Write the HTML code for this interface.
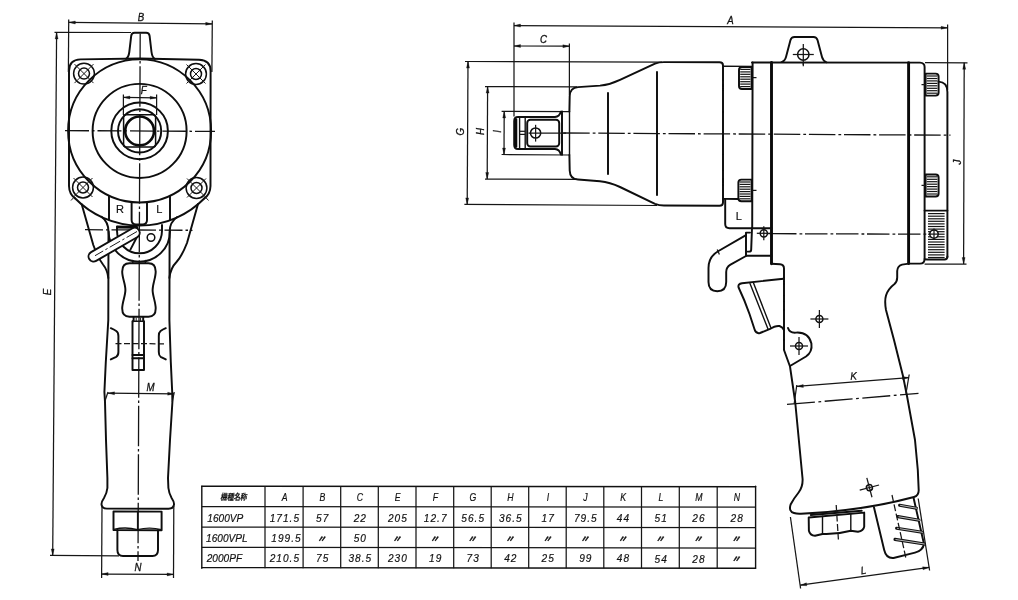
<!DOCTYPE html>
<html lang="ja">
<head>
<meta charset="utf-8">
<title>外形寸法図 1600VP / 1600VPL / 2000PF</title>
<style>
html,body{margin:0;padding:0;background:#fff;}
body{width:1018px;height:600px;overflow:hidden;}
svg{display:block;filter:grayscale(1);}
.k{fill:none;stroke:#0e0e0e;stroke-width:1.95;stroke-linecap:round;stroke-linejoin:round;}
.k1{fill:none;stroke:#111;stroke-width:1.4;stroke-linecap:round;stroke-linejoin:round;}
.k15{fill:none;stroke:#0e0e0e;stroke-width:1.5;}
.kk2{fill:none;stroke:#0a0a0a;stroke-width:2.6;stroke-linecap:round;}
.kk{fill:none;stroke:#0a0a0a;stroke-width:2.9;stroke-linecap:round;}
.t{fill:none;stroke:#161616;stroke-width:1.25;}
.t2{fill:none;stroke:#1a1a1a;stroke-width:1;}
.h{fill:none;stroke:#141414;stroke-width:1.2;}
.c{fill:none;stroke:#141414;stroke-width:1.3;stroke-dasharray:17 3 3.5 3;}
.a{fill:#111;stroke:#111;stroke-width:0.3;}
text{font-family:"Liberation Sans","Noto Sans CJK JP",sans-serif;fill:#111;stroke:#111;stroke-width:0.18;}
.d{font-size:10.5px;font-style:italic;text-anchor:middle;stroke-width:0.3;}
.rl{font-family:"Liberation Sans",sans-serif;font-size:11px;text-anchor:middle;}
.th{font-size:10.4px;font-style:italic;text-anchor:middle;}
.tc{font-size:11px;font-style:italic;text-anchor:middle;letter-spacing:1.1px;}
.tl{font-size:11px;font-style:italic;text-anchor:start;}
.dt{font-family:"Liberation Sans","Noto Sans CJK JP",sans-serif;font-size:9px;stroke-width:0.4;font-weight:bold;font-style:italic;text-anchor:middle;}
.jp{font-family:"Liberation Sans","Noto Sans CJK JP",sans-serif;font-size:8.6px;font-weight:bold;font-style:italic;text-anchor:middle;}
</style>
</head>
<body>
<svg width="1018" height="600" viewBox="0 0 1018 600">
<rect x="0" y="0" width="1018" height="600" fill="#fff"/>
<g id="front-view">
<line class="c" x1="140.2" y1="33.5" x2="138.0" y2="561.0" style="stroke-dasharray:40.5 2.8 2.4 2.8;stroke-dashoffset:15.7"/>
<line class="c" x1="65.0" y1="130.6" x2="215.0" y2="131.4" style="stroke-dasharray:24 3 2.5 3"/>
<line class="c" x1="85.0" y1="229.7" x2="192.5" y2="230.3" style="stroke-dasharray:18 3 2.5 3"/>
<path class="k" d="M75 198.3 Q69.2 194 69 186 L69 71 Q69 59.8 80.5 59.4 L139.8 58.5 L199 59.7 Q210.6 60 210.6 71 L210.5 186 Q210.3 194 204.5 198.3" />
<path class="k" d="M75 198.3 A90.5 90.5 0 0 0 204.5 198.3" />
<line class="t2" x1="71.0" y1="200.5" x2="74.0" y2="197.2" />
<line class="t2" x1="208.5" y1="200.5" x2="205.5" y2="197.2" />
<path class="k" d="M126 58.8 Q128.6 57.4 129.3 52 L131.2 35.8 Q131.6 32.8 134.6 32.8 L146.2 32.8 Q149.2 32.8 149.6 35.8 L151.5 52 Q152.2 57.4 154.8 58.8" />
<circle class="k" cx="139.6" cy="130.9" r="71.5" />
<circle class="k" cx="139.6" cy="130.9" r="47.0" />
<circle class="k" cx="139.6" cy="130.9" r="28.3" />
<circle class="k" cx="139.6" cy="130.9" r="21.6" />
<rect class="k15" x="123.6" y="114.7" width="32.0" height="32.2" rx="2.5"/>
<circle class="kk2" cx="139.6" cy="130.9" r="14.4" />
<circle class="k15" cx="84.0" cy="73.6" r="10.4" />
<circle class="k15" cx="84.0" cy="73.6" r="5.5" />
<line class="t2" x1="74.5" y1="64.1" x2="93.5" y2="83.1" />
<line class="t2" x1="93.5" y1="64.1" x2="74.5" y2="83.1" />
<circle class="k15" cx="196.0" cy="74.0" r="10.4" />
<circle class="k15" cx="196.0" cy="74.0" r="5.5" />
<line class="t2" x1="186.5" y1="64.5" x2="205.5" y2="83.5" />
<line class="t2" x1="205.5" y1="64.5" x2="186.5" y2="83.5" />
<circle class="k15" cx="83.0" cy="187.5" r="10.4" />
<circle class="k15" cx="83.0" cy="187.5" r="5.5" />
<line class="t2" x1="73.5" y1="178.0" x2="92.5" y2="197.0" />
<line class="t2" x1="92.5" y1="178.0" x2="73.5" y2="197.0" />
<circle class="k15" cx="196.5" cy="188.0" r="10.4" />
<circle class="k15" cx="196.5" cy="188.0" r="5.5" />
<line class="t2" x1="187.0" y1="178.5" x2="206.0" y2="197.5" />
<line class="t2" x1="206.0" y1="178.5" x2="187.0" y2="197.5" />
<line class="t" x1="123.4" y1="94.5" x2="123.4" y2="115.0" />
<line class="t" x1="156.6" y1="94.5" x2="156.6" y2="115.0" />
<line class="t" x1="123.4" y1="97.4" x2="156.6" y2="97.8" />
<polygon class="a" points="123.4,97.4 129.9,96.0 129.9,99.0"/>
<polygon class="a" points="156.6,97.8 150.1,99.2 150.1,96.2"/>
<text class="d" transform="translate(143.7 94.0) scale(0.92 1)" >F</text>
<line class="k" x1="109.0" y1="196.0" x2="109.0" y2="219.7" />
<line class="k" x1="170.0" y1="196.0" x2="170.0" y2="219.9" />
<path class="k" d="M131.6 202 L131.6 220 Q131.6 224.4 136 224.4 L142.6 224.4 Q147 224.4 147 220 L147 202" />
<text class="rl" transform="translate(120.0 212.6)" >R</text>
<text class="rl" transform="translate(159.3 213.0)" >L</text>
<path class="k" d="M81.7 204.2 L93.3 245 Q98 258 103 264.5 Q107.5 270 108.3 278" />
<path class="k" d="M198 204 L187 243 Q182 256 176.5 262 Q170.5 268 169.4 278" />
<path class="k" d="M101.5 216.8 Q108.6 222 108.5 232 L108.3 320 L105.8 362 L104.4 392 L105 402 L106 440 L107.4 478 L107.4 488 Q106.8 493.5 104 498 Q101 502.4 101.6 505 Q102.4 508.6 107 508.6 L168.5 508.8 Q173 508.8 173.9 505 Q174.6 502.4 171.6 498 Q169 493.5 168.4 488 L168 478 L170 440 L172.4 402 L172.2 392 L170.8 362 L169.4 320 L169.6 232 Q169.6 222 177.2 217" />
<path class="kk" d="M117.4 227 L137 227.4" />
<path class="k" d="M117 226.8 L117 230.8 A22.5 22.5 0 0 0 162 230.8 L162 225" />
<path class="k" d="M108.6 231.5 A30.7 30.2 0 0 0 170 231.5" />
<line class="k" x1="139.3" y1="232.5" x2="130.4" y2="249.6" />
<circle class="k15" cx="151.0" cy="237.5" r="3.8" />
<line class="k1" x1="132.8" y1="260.5" x2="132.8" y2="263.2" />
<line class="k1" x1="145.4" y1="260.5" x2="145.4" y2="263.2" />
<line x1="134.6" y1="232.9" x2="93.6" y2="256.5" stroke="#0e0e0e" stroke-width="12" stroke-linecap="round"/>
<line x1="134.6" y1="232.9" x2="93.6" y2="256.5" stroke="#fff" stroke-width="8.2" stroke-linecap="round"/>
<line x1="137" y1="231.5" x2="95" y2="255.7" stroke="#1a1a1a" stroke-width="1" stroke-dasharray="12 2.5 2.5 2.5"/>
<path class="k" d="M129.5 263.2 L148.5 263.2 C153 263.2 155.7 266 155.7 271.5 C155.7 278 152.6 284 152.6 290 C152.6 296 155.7 302 155.7 308.5 C155.7 314 153 316.7 148.5 316.7 L129.5 316.7 C125 316.7 122.2 314 122.2 308.5 C122.2 302 125.4 296 125.4 290 C125.4 284 122.2 278 122.2 271.5 C122.2 266 125 263.2 129.5 263.2 Z" />
<path class="k" d="M133.6 317 L133.6 321.3 L132.5 321.3 L132.5 370 L144 370 L144 321.3 L143.2 321.3 L143.2 317" />
<line class="k1" x1="132.5" y1="321.3" x2="144.0" y2="321.3" />
<line class="t2" x1="136.2" y1="317.5" x2="136.2" y2="321.0" />
<line class="t2" x1="140.6" y1="317.5" x2="140.6" y2="321.0" />
<line class="k" x1="132.5" y1="355.0" x2="144.0" y2="355.0" />
<line class="k" x1="132.5" y1="358.2" x2="144.0" y2="358.2" />
<path class="k" d="M110.8 328.2 Q114 329.6 116.2 331 Q118.4 332.4 118.4 336 L118.4 352 Q118.4 355.6 116.2 356.8 L110.8 359.4" />
<path class="k" d="M165.8 328.2 Q162.6 329.6 160.6 331 Q158.8 332.4 158.8 336 L158.8 352 Q158.8 355.6 160.6 356.8 L165.8 359.4" />
<line class="t" x1="115.5" y1="343.6" x2="164.3" y2="343.8" stroke-dasharray="6 2.5"/>
<line class="t" x1="108.0" y1="393.2" x2="174.2" y2="393.8" />
<polygon class="a" points="108.0,393.2 114.5,391.8 114.5,394.8"/>
<polygon class="a" points="174.2,393.8 167.7,395.2 167.7,392.2"/>
<line class="t" x1="108.0" y1="392.0" x2="104.6" y2="402.0" />
<line class="t" x1="174.2" y1="392.0" x2="172.4" y2="402.0" />
<text class="d" transform="translate(150.5 390.7) scale(0.92 1)" >M</text>
<path class="k" d="M113.5 511.5 L113.5 530 L161.6 530.2 L161.6 511.6 Z" />
<path class="k1" d="M113.8 529.4 Q125.5 526.6 137.5 529.6 Q149.5 526.6 161.4 529.6" />
<line class="k1" x1="137.6" y1="511.6" x2="137.6" y2="529.4" />
<path class="k" d="M117.4 530 L117.4 550 Q117.4 556 123 556 L152.4 556 Q158 556 158 550 L158 530" />
<line class="t" x1="102.0" y1="506.0" x2="101.6" y2="578.0" />
<line class="t" x1="173.8" y1="506.0" x2="173.5" y2="578.0" />
<line class="t" x1="101.6" y1="574.0" x2="173.6" y2="574.4" />
<polygon class="a" points="101.6,574.0 108.1,572.5 108.1,575.5"/>
<polygon class="a" points="173.6,574.4 167.1,575.9 167.1,572.9"/>
<text class="d" transform="translate(138.0 571.4) scale(0.92 1)" >N</text>
<line class="t" x1="54.5" y1="32.3" x2="131.0" y2="32.5" />
<line class="t" x1="50.0" y1="555.3" x2="119.0" y2="555.8" />
<line class="t" x1="56.6" y1="32.5" x2="52.7" y2="555.4" />
<polygon class="a" points="56.6,32.5 58.1,39.0 55.1,39.0"/>
<polygon class="a" points="52.7,555.4 51.2,548.9 54.2,548.9"/>
<text class="d" transform="translate(51.2 292.0) rotate(-90) scale(0.92 1)" >E</text>
<line class="t" x1="68.7" y1="19.5" x2="68.4" y2="72.0" />
<line class="t" x1="212.3" y1="20.5" x2="211.9" y2="72.0" />
<line class="t" x1="68.8" y1="22.4" x2="212.2" y2="23.9" />
<polygon class="a" points="68.8,22.4 75.3,21.0 75.3,24.0"/>
<polygon class="a" points="212.2,23.9 205.7,25.3 205.7,22.3"/>
<text class="d" transform="translate(141.0 20.5) scale(0.92 1)" >B</text>
</g>
<g id="side-view">
<line class="c" x1="563.2" y1="133.0" x2="950.5" y2="135.2" style="stroke-dasharray:26.5 3 2.8 2.8"/>
<line class="c" x1="774.0" y1="233.7" x2="930.0" y2="234.2" style="stroke-dasharray:22.5 3 2.8 2.7"/>
<line class="t" x1="767.0" y1="233.6" x2="774.0" y2="233.7" />
<line class="c" x1="787.0" y1="404.4" x2="918.5" y2="393.4" style="stroke-dasharray:28 3.5 2.8 3.5"/>
<line class="t" x1="514.0" y1="22.5" x2="514.0" y2="116.5" />
<line class="t" x1="947.6" y1="24.5" x2="947.6" y2="90.0" />
<line class="t" x1="514.0" y1="25.6" x2="947.6" y2="27.8" />
<polygon class="a" points="514.0,25.6 520.5,24.1 520.5,27.1"/>
<polygon class="a" points="947.6,27.8 941.1,29.3 941.1,26.3"/>
<text class="d" transform="translate(730.5 24.0) scale(0.92 1)" >A</text>
<line class="t" x1="569.4" y1="43.5" x2="569.4" y2="95.0" />
<line class="t" x1="514.0" y1="46.0" x2="569.4" y2="46.2" />
<polygon class="a" points="514.0,46.0 520.5,44.5 520.5,47.5"/>
<polygon class="a" points="569.4,46.2 562.9,47.7 562.9,44.7"/>
<text class="d" transform="translate(543.5 43.0) scale(0.92 1)" >C</text>
<line class="t" x1="465.0" y1="61.5" x2="662.0" y2="62.2" />
<line class="t" x1="464.4" y1="204.3" x2="657.0" y2="205.5" />
<line class="t" x1="468.0" y1="61.6" x2="467.2" y2="204.4" />
<polygon class="a" points="468.0,61.6 469.5,68.1 466.5,68.1"/>
<polygon class="a" points="467.2,204.4 465.7,197.9 468.7,197.9"/>
<text class="d" transform="translate(464.2 131.7) rotate(-90) scale(0.92 1)" >G</text>
<line class="t" x1="485.0" y1="86.6" x2="577.0" y2="86.9" />
<line class="t" x1="485.0" y1="179.0" x2="577.0" y2="179.3" />
<line class="t" x1="487.6" y1="86.6" x2="487.2" y2="179.0" />
<polygon class="a" points="487.6,86.6 489.1,93.1 486.1,93.1"/>
<polygon class="a" points="487.2,179.0 485.7,172.5 488.7,172.5"/>
<text class="d" transform="translate(484.2 131.5) rotate(-90) scale(0.92 1)" >H</text>
<line class="t" x1="501.6" y1="111.3" x2="569.4" y2="111.5" />
<line class="t" x1="501.6" y1="154.5" x2="569.4" y2="155.0" />
<line class="t" x1="504.2" y1="111.4" x2="504.0" y2="154.5" />
<polygon class="a" points="504.2,111.4 505.7,117.9 502.7,117.9"/>
<polygon class="a" points="504.0,154.5 502.5,148.0 505.5,148.0"/>
<text class="d" transform="translate(501.0 131.5) rotate(-90) scale(0.92 1)" >I</text>
<path class="k" d="M560.8 111.8 Q559.6 116.6 555 117 L518 117 Q514.2 117 514.2 121 L514.2 145 Q514.2 149 518 149 L555 149 Q559.6 149.4 560.8 154.4" />
<line class="kk2" x1="516.0" y1="119.5" x2="516.0" y2="146.5" />
<line class="k1" x1="519.6" y1="117.5" x2="519.6" y2="148.6" />
<line class="k1" x1="525.2" y1="117.5" x2="525.2" y2="148.6" />
<line class="t" x1="519.6" y1="131.3" x2="525.2" y2="131.3" />
<line class="t" x1="519.6" y1="134.4" x2="525.2" y2="134.4" />
<rect class="k" x="527.2" y="119.7" width="32.0" height="26.8" rx="3.2"/>
<line class="k" x1="562.0" y1="111.5" x2="562.0" y2="154.8" />
<circle class="k15" cx="535.6" cy="133.0" r="5.1" />
<line class="t" x1="528.5" y1="133.0" x2="566.0" y2="133.1" />
<line class="t" x1="535.6" y1="124.8" x2="535.6" y2="141.6" />
<path class="k" d="M569.4 111.5 L569.7 96 Q570 87.6 578 87.1 L600 85.6 Q610 84.6 620 79.8 L655 63.6 Q659 62.1 664 62.1 L719.5 62.3 Q723 62.3 723 65.5 L723 202.5 Q723 205.7 719.5 205.7 L664 205.5 Q659 205.5 655 203.8 L620 187 Q610 182.2 600 181.2 L578 179.5 Q570 179.2 569.7 170.5 L569.4 155" />
<line class="k1" x1="569.5" y1="111.5" x2="569.5" y2="155.0" />
<line class="k" x1="608.0" y1="93.0" x2="608.0" y2="174.0" />
<line class="k" x1="657.0" y1="72.0" x2="657.0" y2="195.0" />
<line class="k1" x1="723.0" y1="66.2" x2="752.4" y2="66.4" />
<line class="k" x1="723.0" y1="198.9" x2="738.5" y2="199.0" />
<path class="k" d="M751.6 67 L742 67 Q739 67 739 70 L739 86 Q739 89 742 89 L751.6 89 Z" fill="#f4f4f4"/>
<line class="h" x1="740.2" y1="69.4" x2="750.4" y2="69.4" />
<line class="h" x1="740.2" y1="71.9" x2="750.4" y2="71.9" />
<line class="h" x1="740.2" y1="74.3" x2="750.4" y2="74.3" />
<line class="h" x1="740.2" y1="76.8" x2="750.4" y2="76.8" />
<line class="h" x1="740.2" y1="79.2" x2="750.4" y2="79.2" />
<line class="h" x1="740.2" y1="81.7" x2="750.4" y2="81.7" />
<line class="h" x1="740.2" y1="84.1" x2="750.4" y2="84.1" />
<line class="h" x1="740.2" y1="86.6" x2="750.4" y2="86.6" />
<path class="k" d="M751.6 179.6 L741.4 179.6 Q738.4 179.6 738.4 182.6 L738.4 198.2 Q738.4 201.2 741.4 201.2 L751.6 201.2 Z" fill="#f4f4f4"/>
<line class="h" x1="739.6" y1="182.0" x2="750.4" y2="182.0" />
<line class="h" x1="739.6" y1="184.4" x2="750.4" y2="184.4" />
<line class="h" x1="739.6" y1="186.8" x2="750.4" y2="186.8" />
<line class="h" x1="739.6" y1="189.2" x2="750.4" y2="189.2" />
<line class="h" x1="739.6" y1="191.6" x2="750.4" y2="191.6" />
<line class="h" x1="739.6" y1="194.0" x2="750.4" y2="194.0" />
<line class="h" x1="739.6" y1="196.4" x2="750.4" y2="196.4" />
<line class="h" x1="739.6" y1="198.8" x2="750.4" y2="198.8" />
<line class="t" x1="751.5" y1="77.6" x2="756.5" y2="77.6" />
<line class="t" x1="751.5" y1="190.4" x2="756.5" y2="190.4" />
<line class="k" x1="752.6" y1="62.4" x2="752.2" y2="228.0" />
<path class="k" d="M752 62.4 L920 62.6 Q924.6 62.8 924.6 67 L924.6 259 Q924.6 263.6 920 263.6 L908.8 263.6" />
<line class="kk" x1="771.5" y1="62.4" x2="771.5" y2="263.8" />
<line class="kk" x1="908.6" y1="62.6" x2="908.6" y2="263.6" />
<path class="k" d="M781.5 62.1 Q784.8 61.2 786 57 L790.5 40 Q791.3 36.9 794.5 36.9 L813.5 36.9 Q816.6 36.9 817.5 40 L822 57 Q823.2 61.2 826.5 62.3" />
<g>
<circle class="k15" cx="803.3" cy="54.5" r="5.7" />
<line class="t" x1="792.8" y1="54.5" x2="813.8" y2="54.5" />
<line class="t" x1="803.3" y1="44.0" x2="803.3" y2="65.0" />
</g>
<line class="t" x1="803.3" y1="62.0" x2="803.3" y2="66.2" />
<path class="k" d="M925.6 73.6 L935.6 73.6 Q938.6 73.6 938.6 76.6 L938.6 92.6 Q938.6 95.6 935.6 95.6 L925.6 95.6 Z" fill="#f4f4f4"/>
<line class="h" x1="926.8" y1="76.0" x2="937.4" y2="76.0" />
<line class="h" x1="926.8" y1="78.5" x2="937.4" y2="78.5" />
<line class="h" x1="926.8" y1="80.9" x2="937.4" y2="80.9" />
<line class="h" x1="926.8" y1="83.4" x2="937.4" y2="83.4" />
<line class="h" x1="926.8" y1="85.8" x2="937.4" y2="85.8" />
<line class="h" x1="926.8" y1="88.3" x2="937.4" y2="88.3" />
<line class="h" x1="926.8" y1="90.7" x2="937.4" y2="90.7" />
<line class="h" x1="926.8" y1="93.2" x2="937.4" y2="93.2" />
<path class="k" d="M925.6 174.4 L935.6 174.4 Q938.6 174.4 938.6 177.4 L938.6 193.4 Q938.6 196.4 935.6 196.4 L925.6 196.4 Z" fill="#f4f4f4"/>
<line class="h" x1="926.8" y1="176.8" x2="937.4" y2="176.8" />
<line class="h" x1="926.8" y1="179.3" x2="937.4" y2="179.3" />
<line class="h" x1="926.8" y1="181.7" x2="937.4" y2="181.7" />
<line class="h" x1="926.8" y1="184.2" x2="937.4" y2="184.2" />
<line class="h" x1="926.8" y1="186.6" x2="937.4" y2="186.6" />
<line class="h" x1="926.8" y1="189.1" x2="937.4" y2="189.1" />
<line class="h" x1="926.8" y1="191.5" x2="937.4" y2="191.5" />
<line class="h" x1="926.8" y1="194.0" x2="937.4" y2="194.0" />
<line class="t" x1="921.5" y1="84.6" x2="925.6" y2="84.6" />
<line class="t" x1="921.5" y1="185.4" x2="925.6" y2="185.4" />
<path class="k" d="M938.6 81.6 Q947.4 82 947.4 92 L947.4 257" />
<path class="k" d="M924.6 210.6 L947.4 210.6 M924.6 259 Q924.8 259.4 927 259.4 L944.5 259.4 Q947.4 259.4 947.4 256.5" />
<line class="h" x1="928.0" y1="213.6" x2="944.6" y2="213.6" />
<line class="h" x1="928.0" y1="216.2" x2="944.6" y2="216.2" />
<line class="h" x1="928.0" y1="218.8" x2="944.6" y2="218.8" />
<line class="h" x1="928.0" y1="221.3" x2="944.6" y2="221.3" />
<line class="h" x1="928.0" y1="223.9" x2="944.6" y2="223.9" />
<line class="h" x1="928.0" y1="226.5" x2="944.6" y2="226.5" />
<line class="h" x1="928.0" y1="229.1" x2="944.6" y2="229.1" />
<line class="h" x1="928.0" y1="231.7" x2="944.6" y2="231.7" />
<line class="h" x1="928.0" y1="234.2" x2="944.6" y2="234.2" />
<line class="h" x1="928.0" y1="236.8" x2="944.6" y2="236.8" />
<line class="h" x1="928.0" y1="239.4" x2="944.6" y2="239.4" />
<line class="h" x1="928.0" y1="242.0" x2="944.6" y2="242.0" />
<line class="h" x1="928.0" y1="244.6" x2="944.6" y2="244.6" />
<line class="h" x1="928.0" y1="247.1" x2="944.6" y2="247.1" />
<line class="h" x1="928.0" y1="249.7" x2="944.6" y2="249.7" />
<line class="h" x1="928.0" y1="252.3" x2="944.6" y2="252.3" />
<line class="h" x1="928.0" y1="254.9" x2="944.6" y2="254.9" />
<line class="h" x1="928.0" y1="257.5" x2="944.6" y2="257.5" />
<circle class="k15" cx="934.0" cy="234.1" r="4.2" style="fill:#fff"/>
<line class="t" x1="934.0" y1="228.6" x2="934.0" y2="239.6" />
<line class="t" x1="929.0" y1="234.1" x2="939.0" y2="234.1" />
<line class="t" x1="925.0" y1="62.6" x2="967.5" y2="62.8" />
<line class="t" x1="924.6" y1="264.0" x2="966.5" y2="264.2" />
<line class="t" x1="964.2" y1="62.8" x2="963.6" y2="264.0" />
<polygon class="a" points="964.2,62.8 965.7,69.3 962.7,69.3"/>
<polygon class="a" points="963.6,264.0 962.1,257.5 965.1,257.5"/>
<text class="d" transform="translate(961.0 162.0) rotate(-90) scale(0.92 1)" >J</text>
<path class="k" d="M725.2 199.5 L725.2 224 Q725.2 228.2 729.5 228.2 L771.5 228.2" />
<text class="rl" transform="translate(738.7 219.7)" >L</text>
<path class="k" d="M752 228 L751.2 249.4 Q751.2 251.6 749 251.6 L747.6 251.6" />
<path class="k" d="M750 232.6 L746 232.6 L746 255.7 L771.5 255.7" />
<g>
<circle class="k15" cx="763.8" cy="233.3" r="3.6" />
<line class="t" x1="756.8" y1="233.3" x2="770.8" y2="233.3" />
<line class="t" x1="763.8" y1="226.3" x2="763.8" y2="240.3" />
</g>
<path class="k" d="M746 235.2 L718.5 251 Q708.5 256.6 708.5 268 L708.5 282 Q708.5 291.2 717.3 291.2 Q726.2 291.2 726.2 282 L726.2 272 Q726.2 267 730.5 264.6 L746 256" />
<line class="t" x1="717.2" y1="249.4" x2="719.4" y2="254.6" />
<path class="k" d="M771.5 263.8 L780 264.3 Q784 264.6 784 268.5 L784 350 L790 366.5 L795.2 402 L802.6 479 Q802.9 487 798.6 492.5 Q793.4 499 790.6 504.5 Q788.4 511.3 794 513 Q797 514 801 513.7 Q861 511.2 914 497 Q918.8 495.6 918.7 490 L917.8 470 L915 440 L907 396 L903 376 L894 340 L886 310 Q884.4 301 886 295.5 Q888 289 894.5 284 Q897.2 281.5 897.2 277.5 L897.2 271 Q897.4 266 902 264.6 L908.8 263.6" />
<path class="k" d="M783.5 278.8 L742 283.2 Q737.6 283.8 738.6 287.5 Q745 301 749.5 314 L754.6 329.5 Q756 334 760 333 L769.5 329.2 Q775.5 325.4 779.5 326 Q782.5 327 784 330" />
<line class="k1" x1="750.0" y1="283.6" x2="768.0" y2="329.0" />
<line class="k1" x1="753.6" y1="283.2" x2="770.8" y2="327.5" />
<path class="k" d="M788 328 Q789.6 333.2 796 332.6 Q808.5 331.8 811.4 343.5 Q812.6 352 806 356.5 L790 366" />
<g>
<circle class="k15" cx="819.4" cy="319.0" r="3.5" />
<line class="t" x1="810.4" y1="319.0" x2="828.4" y2="319.0" />
<line class="t" x1="819.4" y1="310.0" x2="819.4" y2="328.0" />
</g>
<g>
<circle class="k15" cx="799.0" cy="346.0" r="3.5" />
<line class="t" x1="790.0" y1="346.0" x2="808.0" y2="346.0" />
<line class="t" x1="799.0" y1="337.0" x2="799.0" y2="355.0" />
</g>
<g transform="rotate(-15 869.4 487.6)">
<circle class="k15" cx="869.4" cy="487.6" r="3.0" />
<line class="t" x1="859.4" y1="487.6" x2="879.4" y2="487.6" />
<line class="t" x1="869.4" y1="477.6" x2="869.4" y2="497.6" />
</g>
<line class="t" x1="796.8" y1="386.4" x2="909.0" y2="377.6" />
<polygon class="a" points="796.8,386.4 803.2,384.4 803.4,387.4"/>
<polygon class="a" points="909.0,377.6 902.6,379.6 902.4,376.6"/>
<line class="t" x1="796.8" y1="385.0" x2="794.2" y2="403.5" />
<line class="t" x1="909.2" y1="374.5" x2="906.0" y2="393.5" />
<text class="d" transform="translate(853.6 379.5) rotate(-3) scale(0.92 1)" >K</text>
<line class="k" x1="810.8" y1="515.0" x2="861.7" y2="510.8" />
<path class="k" d="M808.7 517.5 L864.2 512.6 L864.2 526.7 Q863.5 531 858 531.7 L850.8 530.8 Q837 534.6 822.5 534 L815 535.8 Q810 535.5 808.9 530.8 Z" />
<line class="k1" x1="822.5" y1="516.2" x2="822.5" y2="534.0" />
<line class="k1" x1="850.8" y1="513.8" x2="850.8" y2="530.8" />
<line class="t" x1="836.2" y1="505.0" x2="838.4" y2="539.5" stroke-dasharray="7 2.5"/>
<path class="k" d="M874 507.5 L884.2 550 Q886.2 558.6 893.5 558 L915 552.6 Q922.8 550.6 924 544 L913.6 498" />
<line x1="899.6" y1="505.2" x2="916.5" y2="508.2" stroke="#111" stroke-width="3.1" stroke-linecap="round"/>
<line x1="900.1" y1="505.3" x2="917.5" y2="508.34999999999997" stroke="#fff" stroke-width="0.7"/>
<line x1="898" y1="516.6" x2="919" y2="520.2" stroke="#111" stroke-width="3.1" stroke-linecap="round"/>
<line x1="898.5" y1="516.7" x2="920" y2="520.35" stroke="#fff" stroke-width="0.7"/>
<line x1="896.6" y1="528.2" x2="922" y2="532.2" stroke="#111" stroke-width="3.1" stroke-linecap="round"/>
<line x1="897.1" y1="528.3000000000001" x2="923" y2="532.35" stroke="#fff" stroke-width="0.7"/>
<line x1="895" y1="539.4" x2="924.5" y2="544" stroke="#111" stroke-width="3.1" stroke-linecap="round"/>
<line x1="895.5" y1="539.5" x2="925.5" y2="544.15" stroke="#fff" stroke-width="0.7"/>
<line class="t" x1="892.0" y1="495.0" x2="906.2" y2="559.5" stroke-dasharray="7 2.5"/>
<line class="t" x1="790.4" y1="517.0" x2="800.6" y2="588.5" />
<line class="t" x1="918.2" y1="498.5" x2="929.6" y2="570.5" />
<line class="t" x1="800.2" y1="585.2" x2="929.2" y2="567.4" />
<polygon class="a" points="800.2,585.2 806.4,582.8 806.8,585.8"/>
<polygon class="a" points="929.2,567.4 923.0,569.8 922.6,566.8"/>
<text class="d" transform="translate(864.0 574.0) rotate(-8) scale(0.92 1)" >L</text>
</g>
<g id="table">
<line class="k1" x1="201.8" y1="486.2" x2="755.6" y2="486.8" />
<line class="t" x1="201.8" y1="506.5" x2="755.6" y2="507.1" />
<line class="t" x1="201.8" y1="527.1" x2="755.6" y2="527.7" />
<line class="t" x1="201.8" y1="547.4" x2="755.6" y2="548.0" />
<line class="k1" x1="201.8" y1="567.6" x2="755.6" y2="568.2" />
<line class="k1" x1="201.8" y1="486.2" x2="201.8" y2="568.2" />
<line class="t" x1="265.0" y1="486.2" x2="265.0" y2="568.2" />
<line class="t" x1="303.1" y1="486.2" x2="303.1" y2="568.2" />
<line class="t" x1="340.7" y1="486.2" x2="340.7" y2="568.2" />
<line class="t" x1="378.3" y1="486.2" x2="378.3" y2="568.2" />
<line class="t" x1="416.0" y1="486.2" x2="416.0" y2="568.2" />
<line class="t" x1="453.7" y1="486.2" x2="453.7" y2="568.2" />
<line class="t" x1="491.2" y1="486.2" x2="491.2" y2="568.2" />
<line class="t" x1="528.7" y1="486.2" x2="528.7" y2="568.2" />
<line class="t" x1="566.2" y1="486.2" x2="566.2" y2="568.2" />
<line class="t" x1="603.8" y1="486.2" x2="603.8" y2="568.2" />
<line class="t" x1="641.5" y1="486.2" x2="641.5" y2="568.2" />
<line class="t" x1="679.3" y1="486.2" x2="679.3" y2="568.2" />
<line class="t" x1="717.2" y1="486.2" x2="717.2" y2="568.2" />
<line class="k1" x1="755.6" y1="486.2" x2="755.6" y2="568.2" />
<text class="jp" transform="translate(233.5 500.4) scale(0.77 1)" >機種名称</text>
<text class="th" transform="translate(284.6 500.8) scale(0.84 1)" >A</text>
<text class="th" transform="translate(322.4 500.8) scale(0.84 1)" >B</text>
<text class="th" transform="translate(360.0 500.9) scale(0.84 1)" >C</text>
<text class="th" transform="translate(397.6 500.9) scale(0.84 1)" >E</text>
<text class="th" transform="translate(435.4 500.9) scale(0.84 1)" >F</text>
<text class="th" transform="translate(472.9 501.0) scale(0.84 1)" >G</text>
<text class="th" transform="translate(510.5 501.0) scale(0.84 1)" >H</text>
<text class="th" transform="translate(548.0 501.0) scale(0.84 1)" >I</text>
<text class="th" transform="translate(585.5 501.1) scale(0.84 1)" >J</text>
<text class="th" transform="translate(623.1 501.1) scale(0.84 1)" >K</text>
<text class="th" transform="translate(660.9 501.2) scale(0.84 1)" >L</text>
<text class="th" transform="translate(698.8 501.2) scale(0.84 1)" >M</text>
<text class="th" transform="translate(736.9 501.2) scale(0.84 1)" >N</text>
<text class="tl" transform="translate(207.3 521.5) scale(0.92 1)" >1600VP</text>
<text class="tc" transform="translate(284.9 521.6) scale(0.92 1)" >171.5</text>
<text class="tc" transform="translate(322.7 521.6) scale(0.92 1)" >57</text>
<text class="tc" transform="translate(360.3 521.7) scale(0.92 1)" >22</text>
<text class="tc" transform="translate(397.9 521.7) scale(0.92 1)" >205</text>
<text class="tc" transform="translate(435.7 521.7) scale(0.92 1)" >12.7</text>
<text class="tc" transform="translate(473.2 521.8) scale(0.92 1)" >56.5</text>
<text class="tc" transform="translate(510.8 521.8) scale(0.92 1)" >36.5</text>
<text class="tc" transform="translate(548.2 521.8) scale(0.92 1)" >17</text>
<text class="tc" transform="translate(585.8 521.9) scale(0.92 1)" >79.5</text>
<text class="tc" transform="translate(623.4 521.9) scale(0.92 1)" >44</text>
<text class="tc" transform="translate(661.2 522.0) scale(0.92 1)" >51</text>
<text class="tc" transform="translate(699.0 522.0) scale(0.92 1)" >26</text>
<text class="tc" transform="translate(737.2 522.0) scale(0.92 1)" >28</text>
<text class="tl" transform="translate(206.1 541.6) scale(0.92 1)" >1600VPL</text>
<text class="tc" transform="translate(286.5 541.7) scale(0.92 1)" >199.5</text>
<text class="dt" transform="translate(321.6 541.5)" >〃</text>
<text class="tc" transform="translate(360.3 541.8) scale(0.92 1)" >50</text>
<text class="dt" transform="translate(396.8 541.6)" >〃</text>
<text class="dt" transform="translate(434.6 541.6)" >〃</text>
<text class="dt" transform="translate(472.1 541.7)" >〃</text>
<text class="dt" transform="translate(509.7 541.7)" >〃</text>
<text class="dt" transform="translate(547.2 541.7)" >〃</text>
<text class="dt" transform="translate(584.7 541.8)" >〃</text>
<text class="dt" transform="translate(622.4 541.8)" >〃</text>
<text class="dt" transform="translate(660.1 541.9)" >〃</text>
<text class="dt" transform="translate(698.0 541.9)" >〃</text>
<text class="dt" transform="translate(736.1 541.9)" >〃</text>
<text class="tl" transform="translate(206.7 562.0) scale(0.92 1)" >2000PF</text>
<text class="tc" transform="translate(284.9 562.1) scale(0.92 1)" >210.5</text>
<text class="tc" transform="translate(322.7 562.1) scale(0.92 1)" >75</text>
<text class="tc" transform="translate(360.3 562.2) scale(0.92 1)" >38.5</text>
<text class="tc" transform="translate(397.9 562.2) scale(0.92 1)" >230</text>
<text class="tc" transform="translate(435.7 562.2) scale(0.92 1)" >19</text>
<text class="tc" transform="translate(473.2 562.3) scale(0.92 1)" >73</text>
<text class="tc" transform="translate(510.8 562.3) scale(0.92 1)" >42</text>
<text class="tc" transform="translate(548.2 562.3) scale(0.92 1)" >25</text>
<text class="tc" transform="translate(585.8 562.4) scale(0.92 1)" >99</text>
<text class="tc" transform="translate(623.4 562.4) scale(0.92 1)" >48</text>
<text class="tc" transform="translate(661.2 562.5) scale(0.92 1)" >54</text>
<text class="tc" transform="translate(699.0 562.5) scale(0.92 1)" >28</text>
<text class="dt" transform="translate(736.1 562.3)" >〃</text>
</g>
</svg>
</body>
</html>
